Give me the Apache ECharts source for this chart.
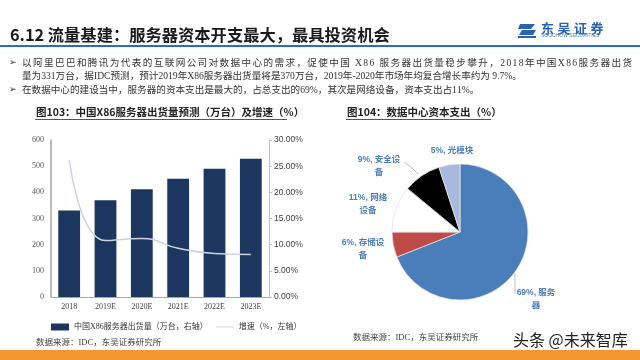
<!DOCTYPE html>
<html><head><meta charset="utf-8">
<script src="https://cdn.jsdelivr.net/npm/echarts@6/dist/echarts.min.js"></script>
<style>html,body{margin:0;padding:0;background:#fff}#c{width:640px;height:360px}</style>
</head><body><div id="c"></div>
<script>
// ---- data ----
const years = ['2018', '2019E', '2020E', '2021E', '2022E', '2023E'];
const shipments = [331, 370, 412, 452, 490, 528];
const growth = [0.262, 0.108, 0.112, 0.093, 0.083, 0.081];
const barName = '中国X86服务器出货量（万台，右轴）';
const lineName = '增速（%，左轴）';
const pieNames = ['服务器', '存储设备', '网络设备', '安全设备', '光模块'];
const pieValues = [69, 6, 11, 9, 5];
const pieLabelTexts = ['69%, 服务\n器', '6%, 存储设\n备', '11%, 网络\n设备', '9%, 安全设\n备', '5%, 光模块'];
const pageTitle = '6.12 流量基建：服务器资本开支最大，最具投资机会';
const bodyLines = [
  '以阿里巴巴和腾讯为代表的互联网公司对数据中心的需求，促使中国 X86 服务器出货量稳步攀升，2018年中国X86服务器出货',
  '量为331万台，据IDC预测，预计2019年X86服务器出货量将是370万台，2019年-2020年市场年均复合增长率约为 9.7%。',
  '在数据中心的建设当中，服务器的资本支出是最大的，占总支出的69%，其次是网络设备，资本支出占11%。'
];
const chart1Title = '图103：中国X86服务器出货量预测（万台）及增速（%）';
const chart2Title = '图104：数据中心资本支出（%）';
const sourceText = '数据来源：IDC，东吴证券研究所';
const watermark = '头条 @未来智库';

// ---- layout helpers ----
const SERIF = '"Liberation Serif","Noto Sans CJK SC"';
const SANS = '"Noto Sans CJK SC","Liberation Sans"';
const ctx = document.createElement('canvas').getContext('2d');
function justified(str, x, y, width, size, family, color) {
  const font = size + 'px ' + family;
  ctx.font = font;
  const chars = Array.from(str);
  const widths = chars.map(ch => ctx.measureText(ch).width);
  const total = widths.reduce((a, b) => a + b, 0);
  const gap = width ? (width - total) / (chars.length - 1) : 0;
  let cx = x; const els = [];
  chars.forEach((ch, i) => {
    els.push({type: 'text', x: cx, y: y, silent: true,
      style: {text: ch, fontSize: size, fontFamily: family, fill: color, verticalAlign: 'middle'}});
    cx += widths[i] + gap;
  });
  return els;
}

const labelPos = [
  {x: 536, y: 299, line: [[515, 273], [515, 285], [515, 294]]},
  {x: 363, y: 249},
  {x: 368, y: 204},
  {x: 379, y: 166, line: [[418, 174], [411, 167], [404, 162]]},
  {x: 452, y: 151}
];

const graphics = [];
graphics.push({type: 'text', x: 10, y: 35, style: {text: pageTitle, fontSize: 16.3, fontWeight: 'bold', fontFamily: SANS, fill: '#1a1a1a', verticalAlign: 'middle'}});
graphics.push({type: 'rect', shape: {x: 0, y: 45, width: 640, height: 2}, style: {fill: '#2e6db4'}});
// logo
graphics.push({type: 'polygon', shape: {points: [[520, 24], [535, 24], [531, 29], [518, 29]]}, style: {fill: '#2a62b0'}});
graphics.push({type: 'polygon', shape: {points: [[522, 30], [536, 30], [533, 35], [519, 35]]}, style: {fill: '#2a62b0'}});
graphics.push({type: 'rect', shape: {x: 518, y: 36, width: 18, height: 2}, style: {fill: '#2a62b0'}});
['东', '吴', '证', '券'].forEach((ch, i) => graphics.push({type: 'text', x: 541 + i * 16.5, y: 28, style: {text: ch, fontSize: 13, fontWeight: 'bold', fontFamily: SANS, fill: '#2a62b0', verticalAlign: 'middle'}}));
graphics.push({type: 'text', x: 541, y: 36, style: {text: 'SOOCHOW SECURITIES', fontSize: 5, fontFamily: '"Liberation Sans"', fill: '#5b86c4', verticalAlign: 'middle'}});
// bullets and body
[63, 90].forEach(y => graphics.push({type: 'text', x: 9, y: y, style: {text: '➢', fontSize: 9, fontFamily: '"DejaVu Sans"', fill: '#333', verticalAlign: 'middle'}}));
graphics.push(...justified(bodyLines[0], 22, 63, 610, 9.6, SERIF, '#333'));
graphics.push(...justified(bodyLines[1], 22, 76, 0, 9.6, SERIF, '#333'));
graphics.push(...justified(bodyLines[2], 22, 90, 0, 9.6, SERIF, '#333'));
// chart titles
graphics.push({type: 'text', x: 36, y: 112, style: {text: chart1Title, fontSize: 10.5, fontWeight: 'bold', fontFamily: SANS, fill: '#222', verticalAlign: 'middle'}});
graphics.push({type: 'rect', shape: {x: 35, y: 119, width: 252, height: 1}, style: {fill: '#555'}});
graphics.push({type: 'text', x: 347, y: 112, style: {text: chart2Title, fontSize: 10.5, fontWeight: 'bold', fontFamily: SANS, fill: '#222', verticalAlign: 'middle'}});
graphics.push({type: 'rect', shape: {x: 346, y: 119, width: 145, height: 1}, style: {fill: '#555'}});
// sources
graphics.push({type: 'text', x: 36, y: 343, style: {text: sourceText, fontSize: 8.5, fontFamily: SERIF, fill: '#444', verticalAlign: 'middle'}});
graphics.push({type: 'text', x: 353, y: 338, style: {text: sourceText, fontSize: 8.5, fontFamily: SERIF, fill: '#444', verticalAlign: 'middle'}});
graphics.push({type: 'rect', shape: {x: 0, y: 350, width: 640, height: 10}, style: {fill: '#f6962f'}});
graphics.push({type: 'text', x: 513, y: 340, style: {text: watermark, fontSize: 16, fontFamily: SANS, fill: '#222', verticalAlign: 'middle'}});

const chart = echarts.init(document.getElementById('c'), null, {renderer: 'canvas'});
chart.setOption({
  animation: false,
  backgroundColor: '#fff',
  grid: {left: 51, right: 371, top: 140, bottom: 63},
  legend: {
    left: 46, top: 318, itemWidth: 18, itemHeight: 7, itemGap: 8,
    textStyle: {fontSize: 8, color: '#333', fontFamily: SERIF},
    data: [{name: barName, icon: 'rect'}, {name: lineName, icon: 'path://M0,0 L40,0 L40,1.5 L0,1.5 Z', itemStyle: {color: '#b8c0cc'}}]
  },
  xAxis: {
    type: 'category', data: years,
    axisLine: {lineStyle: {color: '#a6a6a6'}}, axisTick: {show: false},
    axisLabel: {fontSize: 8, color: '#404040', fontFamily: SERIF, margin: 6}
  },
  yAxis: [
    {type: 'value', min: 0, max: 600, interval: 100,
      axisLine: {show: true, lineStyle: {color: '#a6a6a6', width: 1.5}}, axisTick: {show: false}, splitLine: {show: false},
      axisLabel: {fontSize: 8, color: '#595959', fontFamily: SERIF, margin: 7}},
    {type: 'value', min: 0, max: 0.3, interval: 0.05,
      axisLine: {show: true, lineStyle: {color: '#bfbfbf'}}, axisTick: {show: true, length: 3, lineStyle: {color: '#bfbfbf'}}, splitLine: {show: false},
      axisLabel: {fontSize: 8.5, color: '#404040', fontFamily: '"Liberation Sans"', margin: 5, formatter: v => (v * 100).toFixed(2) + '%'}}
  ],
  series: [
    {name: barName, type: 'bar', data: shipments, barWidth: '60%', itemStyle: {color: '#1c365f'}},
    {name: lineName, type: 'line', yAxisIndex: 1, data: growth, smooth: true, symbol: 'none',
      lineStyle: {color: '#ccd4df', width: 1.5}, itemStyle: {color: '#ccd4df'}},
    {type: 'pie', center: [460, 232], radius: 68, startAngle: 90, clockwise: true,
      data: pieNames.map((n, i) => ({
        name: n, value: pieValues[i],
        label: {formatter: pieLabelTexts[i]},
        labelLine: {show: !!labelPos[i].line, lineStyle: {color: '#bfbfbf', width: 1}}
      })),
      color: ['#4a7ebb', '#be4b48', '#ffffff', '#000000', '#a7badb'],
      itemStyle: {borderColor: '#e3e3e3', borderWidth: 0.8},
      label: {fontSize: 8.5, fontWeight: 'bold', color: '#4a7ebb', fontFamily: '"Liberation Sans","Noto Sans CJK SC"', align: 'center', lineHeight: 13},
      labelLayout: function (p) {
        const lp = labelPos[p.dataIndex];
        const r = {x: lp.x, y: lp.y, align: 'center', verticalAlign: 'middle'};
        if (lp.line) r.labelLinePoints = lp.line;
        return r;
      },
      emphasis: {disabled: true}
    }
  ],
  graphic: graphics
});
</script></body></html>
